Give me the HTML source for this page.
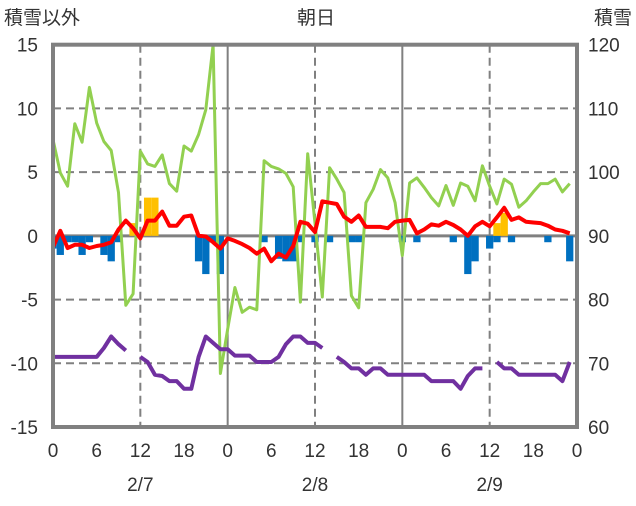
<!DOCTYPE html>
<html><head><meta charset="utf-8">
<style>
html,body{margin:0;padding:0;background:#fff;}
svg text{font-family:"Liberation Sans","Noto Sans CJK JP",sans-serif;font-size:19px;fill:#333;}
</style></head>
<body>
<svg id="chart" width="636" height="501" viewBox="0 0 636 501" xmlns="http://www.w3.org/2000/svg">
<g id="grid"></g>
<g id="bars"></g>
<g id="lines"></g>
<g id="axes"></g>
<text x="4" y="24">積雪以外</text>
<text x="316" y="24" text-anchor="middle">朝日</text>
<text x="594" y="24">積雪</text>
</svg>
<script>
const hours = Array.from({length:72},(_,i)=>i);
const dayLabels = ["2/7","2/8","2/9"];
const hourTickLabels = ["0","6","12","18","0","6","12","18","0","6","12","18","0"];
const leftTicks = [15,10,5,0,-5,-10,-15];
const rightTicks = [120,110,100,90,80,70,60];
const greenSeries = [105.1,99.9,97.8,107.6,104.7,113.3,107.7,104.8,103.4,96.8,79.1,80.9,103.3,101.3,100.9,102.7,98.2,97.0,104.1,103.3,105.9,109.8,120,68.4,
75.4,81.9,78,78.8,78.4,101.8,100.9,100.5,99.8,97.7,79.6,102.9,92,80.4,100.7,98.9,96.8,80.6,78.7,95.2,97.3,100.4,99.1,95.2,
86.9,98.3,99.1,97.6,96,94.7,97.9,94.8,98.3,97.8,95.5,101,97.8,95,98.9,98.1,94.5,95.5,96.9,98.2,98.2,98.9,96.9,98.2];
const redSeries = [-0.9,0.4,-0.95,-0.7,-0.7,-0.95,-0.8,-0.7,-0.5,0.5,1.2,0.6,-0.2,1.2,1.2,1.9,0.8,0.8,1.5,1.6,0,-0.05,-0.5,-1,
-0.2,-0.4,-0.65,-0.95,-1.4,-1,-2,-1.4,-1.7,-0.8,1.1,0.95,0.3,2.7,2.6,2.5,1.5,1.1,1.6,0.7,0.7,0.7,0.6,1.1,
1.2,1.25,0.2,0.5,0.9,0.8,1.1,0.85,0.5,0,0.75,1.1,0.75,1.45,2.2,1.25,1.45,1.1,1.05,1,0.8,0.5,0.4,0.2];
const purpleSeries = [-9.5,-9.5,-9.5,-9.5,-9.5,-9.5,-9.5,-8.8,-7.9,-8.5,-9.0,null,-9.5,-9.9,-10.9,-11,-11.4,-11.4,-12,-12,-9.5,-7.9,-8.4,-8.9,
-8.9,-9.4,-9.4,-9.4,-9.9,-9.9,-9.9,-9.5,-8.5,-7.9,-7.9,-8.4,-8.4,-8.8,null,-9.5,-9.9,-10.4,-10.4,-10.9,-10.4,-10.4,-10.9,-10.9,
-10.9,-10.9,-10.9,-10.9,-11.4,-11.4,-11.4,-11.4,-12,-11,-10.4,-10.4,null,-9.9,-10.4,-10.4,-10.9,-10.9,-10.9,-10.9,-10.9,-10.9,-11.4,-9.9];
const blueSeries = [-1,-1.5,-0.5,-0.5,-1.5,-0.5,0,-1.5,-2,-0.5,0,0,0,0,0,0,0,0,0,0,-2,-3,-0.5,-3,
0,0,0,0,0,-0.5,0,-1.8,-2,-2,-0.5,0,-0.5,0,-0.5,0,0,-0.5,-0.5,0,0,0,0,0,
-0.5,0,-0.5,0,0,0,0,-0.5,0,-3,-2,0,-1,-0.5,0,-0.5,0,0,0,0,-0.5,0,0,-2];
const orangeSeries = [0,0,0,0,0,0,0,0,0,0,0,1,0,3,3,0,0,0,0,0,0,0,0,0,
0,0,0,0,0,0,0,0,0,0,0,0,0,0,0,0,0,0,0,0,0,0,0,0,
0,0,0,0,0,0,0,0,0,0,0,0,0,1,1.8,0,0,0,0,0,0,0,0,0];

const L=53,R=577,T=44.7,B=427;
const x = h => L + h*(R-L)/72;
const y = v => B - (v+15)*(B-T)/30;
const yr = v => B - (v-60)*(B-T)/60;
const NS="http://www.w3.org/2000/svg";
function mk(tag, parent, attrs){const e=document.createElementNS(NS,tag);for(const k in attrs)e.setAttribute(k,attrs[k]);parent.appendChild(e);return e;}
const grid=document.getElementById('grid'), bars=document.getElementById('bars'), lines=document.getElementById('lines'), axes=document.getElementById('axes'), svg=document.getElementById('chart');

[10,5,-5,-10].forEach(v=>{
  const l=mk('line',grid,{x1:L,x2:R,y1:y(v),y2:y(v),stroke:'#808080','stroke-width':2,'stroke-dasharray':'8,5'});
  
  
});
[12,36,60].forEach(h=>{
  const l=mk('line',grid,{x1:x(h),x2:x(h),y1:T,y2:B,stroke:'#808080','stroke-width':2,'stroke-dasharray':'8,5'});
  
  
});
[24,48].forEach(h=>{
  const l=mk('line',grid,{x1:x(h),x2:x(h),y1:T,y2:B,stroke:'#808080','stroke-width':2});
  
  
});

const bw=(R-L)/72;
hours.forEach(h=>{
  const bv=blueSeries[h];
  if(bv<0){
    const x0=Math.max(L,x(h)-bw/2), x1=Math.min(R,x(h)+bw/2);
    const r=mk('rect',bars,{x:x0,y:y(0),width:x1-x0,height:y(bv)-y(0),fill:'#0070c0'});
    
    
  }
  const ov=orangeSeries[h];
  if(ov>0){
    const x0=Math.max(L,x(h)-bw/2), x1=Math.min(R,x(h)+bw/2);
    const r=mk('rect',bars,{x:x0,y:y(ov),width:x1-x0,height:y(0)-y(ov),fill:'#ffc000'});
    
    
  }
});

const zl=mk('line',grid,{x1:L,x2:R,y1:y(0),y2:y(0),stroke:'#808080','stroke-width':3});



function pathFor(arr, yf){
  let d='', pen=false;
  arr.forEach((v,i)=>{ if(v===null){pen=false;return;} d+=(pen?'L':'M')+x(i).toFixed(1)+','+yf(v).toFixed(1)+' '; pen=true;});
  return d;
}
const g=mk('path',lines,{d:pathFor(greenSeries,yr),fill:'none',stroke:'#92d050','stroke-width':3,'stroke-linejoin':'round'});


const rd=mk('path',lines,{d:pathFor(redSeries,y),fill:'none',stroke:'#ff0000','stroke-width':4,'stroke-linejoin':'round'});


const pu=mk('path',lines,{d:pathFor(purpleSeries,y),fill:'none',stroke:'#7030a0','stroke-width':4,'stroke-linejoin':'round'});



const fr=mk('rect',axes,{x:L,y:T,width:R-L,height:B-T,fill:'none',stroke:'#808080','stroke-width':4});



leftTicks.forEach(v=>{
  const t=mk('text',svg,{x:38,y:y(v)+7,'text-anchor':'end'}); t.textContent=v;
  
  
});
rightTicks.forEach(v=>{
  const t=mk('text',svg,{x:588,y:yr(v)+7}); t.textContent=v;
  
  
});
hourTickLabels.forEach((s,i)=>{
  const t=mk('text',svg,{x:x(i*6),y:457,'text-anchor':'middle'}); t.textContent=s;
  
  
});
dayLabels.forEach((s,i)=>{
  const t=mk('text',svg,{x:x(12+24*i),y:491,'text-anchor':'middle'}); t.textContent=s;
  
  
});
</script>
</body></html>
